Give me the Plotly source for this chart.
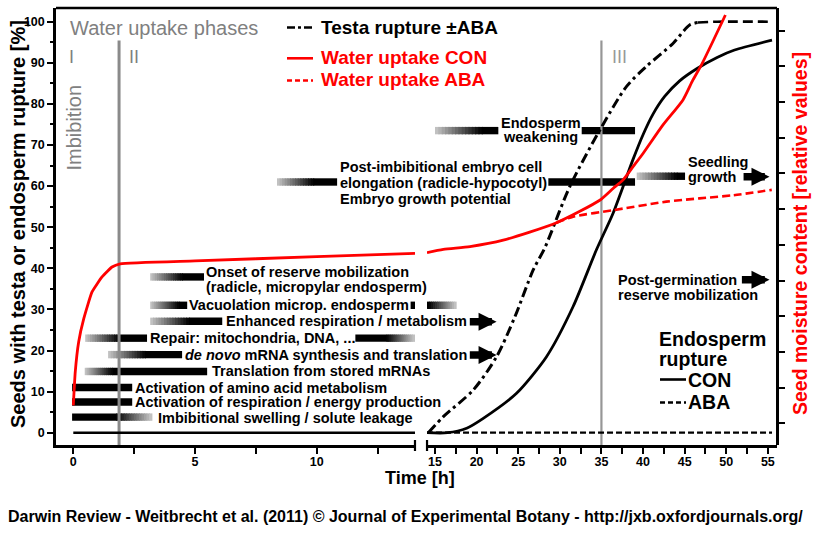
import plotly.graph_objects as go

FONT = "Liberation Sans, Arial, Helvetica, sans-serif"
W, H = 813, 533
ML, MR, MT, MB = 56, 36, 8, 88
PW, PH = W - ML - MR, H - MT - MB

# ---------------- axes (broken time axis) ----------------
X1_RANGE = [-0.711, 14.04]
X2_RANGE = [14.04, 56.1]
X1_DOMAIN = [0.0, 0.4979]
X2_DOMAIN = [0.5146, 1.0]
Y_RANGE = [-2.99, 103.33]
Y2_RANGE = [-6.08, 116.36]

Y_TICKS = [0, 10, 20, 30, 40, 50, 60, 70, 80, 90, 100]
Y2_TICKS = [0, 10, 20, 30, 40, 50, 60, 70, 80, 90, 100, 110]
X1_TICKS = [0, 5, 10]
X2_TICKS = [15, 20, 25, 30, 35, 40, 45, 50, 55]

# ---------------- data ----------------
# Endosperm rupture CON [%]
ENDO_CON_T1 = [0.0, 14.04]
ENDO_CON_V1 = [0, 0]
ENDO_CON_T2 = [14.04, 16.5, 18.8, 20.8, 24.8, 28.4, 31.6, 34.4, 36.4, 38.8, 40.0, 41.2, 42.6, 44.4, 46.5, 48.9, 51.0, 55.5]
ENDO_CON_V2 = [0, 0, 1.1, 3.5, 9.6, 18.5, 30.7, 44.5, 53.4, 66.5, 72.5, 77.5, 81.8, 85.6, 88.6, 91.3, 93.1, 95.5]
# Endosperm rupture ABA [%]
ENDO_ABA_T2 = [14.04, 55.5]
ENDO_ABA_V2 = [0, 0]
# Testa rupture +-ABA [%]
TESTA_T = [14.2, 16.0, 19.6, 22.4, 24.6, 26.8, 28.2, 31.2, 34.8, 38.0, 40.4, 43.6, 45.6, 46.6]
TESTA_V = [0, 3.9, 10.4, 18.5, 28.2, 39.6, 45.0, 59.9, 73.6, 84.2, 89.1, 94.7, 99.2, 99.8]
TESTA_TOP_T = [46.6, 48.9, 55.5]
TESTA_TOP_V = [99.8, 100, 100]
# Water uptake (seed moisture content, relative values)
WU_CON_T1 = [0.0, 0.08, 0.22, 0.43, 0.77, 1.18, 1.59, 1.93, 5.0, 10.0, 14.04]
WU_CON_V1 = [5.0, 14.4, 22.8, 29.3, 36.8, 41.0, 43.8, 44.7, 45.5, 46.7, 47.6]
WU_CON_T2 = [14.04, 16.0, 19.2, 23.2, 29.6, 34.8, 36.4, 37.6, 38.8, 40.0, 42.4, 44.8, 46.0, 47.1, 49.9]
WU_CON_V2 = [47.8, 48.7, 49.5, 51.3, 56.2, 62.5, 65.8, 68.2, 71.9, 75.6, 83.6, 90.6, 96.2, 100.8, 114.4]
WU_ABA_T2 = [29.6, 31.6, 36.4, 42.8, 50.85, 55.47]
WU_ABA_V2 = [56.2, 57.9, 59.7, 62.1, 63.9, 65.4]

# Water uptake phase boundaries (h)
PHASE_T1 = [1.88]
PHASE_T2 = [35.0]
PHASE_TOP = 95.4

# Process bars: axis, level, fade-in start, full start, full end, fade-out end (h)
BAR_AXIS = ["x", "x", "x", "x", "x", "x", "x", "x", "x", "x", "x2", "x", "x", "x2", "x2", "x2", "x2"]
BAR_Y = [3.8, 7.47, 11.0, 14.9, 19.0, 23.0, 23.0, 27.1, 31.0, 31.0, 31.0, 37.9, 61.0, 61.0, 73.5, 73.5, 62.4]
BAR_T0 = [-0.05, -0.05, -0.05, 0.47, 1.43, 0.49, 11.59, 3.16, 3.16, 13.86, 14.04, 3.16, 8.37, 28.62, 15.0, 32.63, 39.24]
BAR_T1 = [-0.05, -0.05, -0.05, 1.60, 2.95, 1.87, 11.59, 4.75, 4.34, 13.86, 14.04, 4.47, 9.86, 28.62, 20.61, 32.63, 44.05]
BAR_T2 = [1.80, 2.42, 2.42, 5.50, 4.47, 3.03, 12.90, 6.12, 4.68, 14.04, 14.40, 5.37, 10.84, 39.04, 22.61, 39.04, 45.05]
BAR_T3 = [3.25, 2.42, 2.42, 5.50, 4.47, 3.03, 14.04, 6.12, 4.68, 14.04, 17.60, 5.37, 10.84, 39.04, 22.61, 39.04, 45.05]

# Arrows (x2 axis, h): level, tail, tip
ARROW_Y = [27.0, 18.9, 62.3, 37.2]
ARROW_TAIL = [19.0, 19.0, 51.9, 51.7]
ARROW_TIP = [22.4, 22.4, 55.2, 55.2]

GRAY = "#808080"
RED = "#ff0000"


def px2x(px):
    return (px - ML) / PW


def py2y(py):
    return (H - MB - py) / PH


fig = go.Figure()

# ---------------- curves ----------------
fig.add_trace(go.Scatter(x=ENDO_CON_T1, y=ENDO_CON_V1, xaxis="x", yaxis="y", mode="lines",
                         line=dict(color="black", width=2.6)))
fig.add_trace(go.Scatter(x=ENDO_ABA_T2, y=ENDO_ABA_V2, xaxis="x2", yaxis="y", mode="lines",
                         line=dict(color="black", width=2.2, dash="6px,3px")))
fig.add_trace(go.Scatter(x=ENDO_CON_T2, y=ENDO_CON_V2, xaxis="x2", yaxis="y", mode="lines",
                         line=dict(color="black", width=2.8, shape="spline", smoothing=0.7)))
fig.add_trace(go.Scatter(x=TESTA_T, y=TESTA_V, xaxis="x2", yaxis="y", mode="lines",
                         line=dict(color="black", width=3, dash="10px,4px,3px,4px",
                                   shape="spline", smoothing=0.8)))
fig.add_trace(go.Scatter(x=TESTA_TOP_T, y=TESTA_TOP_V, xaxis="x2", yaxis="y", mode="lines",
                         line=dict(color="black", width=2.6, dash="10px,5px", shape="spline", smoothing=0.5)))
fig.add_trace(go.Scatter(x=WU_ABA_T2, y=WU_ABA_V2, xaxis="x2", yaxis="y2", mode="lines",
                         line=dict(color=RED, width=2.6, dash="8px,4px", shape="spline", smoothing=0.6)))
fig.add_trace(go.Scatter(x=WU_CON_T1, y=WU_CON_V1, xaxis="x", yaxis="y2", mode="lines",
                         line=dict(color=RED, width=2.8, shape="spline", smoothing=0.4)))
fig.add_trace(go.Scatter(x=WU_CON_T2, y=WU_CON_V2, xaxis="x2", yaxis="y2", mode="lines",
                         line=dict(color=RED, width=2.8, shape="spline", smoothing=0.6)))

# ---------------- shapes ----------------
shapes = []
LIGHT = 200
BAR_HALF = 0.9
N_RAMP = 14


def gray(v):
    v = int(round(v))
    return "rgb(%d,%d,%d)" % (v, v, v)


def rect(axis, a, b, y, color):
    shapes.append(dict(type="rect", xref=axis, yref="y", x0=a, x1=b,
                       y0=y - BAR_HALF, y1=y + BAR_HALF, fillcolor=color,
                       line=dict(width=0), layer="below"))


for ax, y, t0, t1, t2, t3 in zip(BAR_AXIS, BAR_Y, BAR_T0, BAR_T1, BAR_T2, BAR_T3):
    if t1 > t0:
        step = (t1 - t0) / N_RAMP
        for i in range(N_RAMP):
            a = t0 + i * step
            rect(ax, a, a + step * 1.35, y, gray(LIGHT * (1 - (i + 0.5) / N_RAMP)))
    if t2 > t1:
        rect(ax, t1, t2, y, "black")
    if t3 > t2:
        step = (t3 - t2) / N_RAMP
        for i in range(N_RAMP):
            a = t2 + i * step
            rect(ax, a - step * 0.35, a + step, y, gray(LIGHT * (i + 0.5) / N_RAMP))

for t in PHASE_T1:
    shapes.append(dict(type="line", xref="x", yref="y", x0=t, x1=t, y0=Y_RANGE[0], y1=PHASE_TOP,
                       line=dict(color="#8a8a8a", width=3), layer="below"))
for t in PHASE_T2:
    shapes.append(dict(type="line", xref="x2", yref="y", x0=t, x1=t, y0=Y_RANGE[0], y1=PHASE_TOP,
                       line=dict(color="#969696", width=2.2), layer="below"))

# frame top + axis break marks
shapes.append(dict(type="line", xref="paper", yref="paper", x0=0, x1=1, y0=1, y1=1,
                   line=dict(color="black", width=2.5)))
shapes.append(dict(type="line", xref="x domain", yref="paper", x0=1, x1=1,
                   y0=py2y(451), y1=py2y(440), line=dict(color="black", width=2.2)))
shapes.append(dict(type="line", xref="x2 domain", yref="paper", x0=0, x1=0,
                   y0=py2y(451), y1=py2y(440), line=dict(color="black", width=2.2)))

# legend line samples (decoration)
SAMPLES = [
    (287, 313, 27.5, "black", "8px,3px,3px,3px"),
    (287, 313, 58.3, RED, "solid"),
    (287, 313, 80.5, RED, "5px,3px"),
    (660, 686, 379.5, "black", "solid"),
    (660, 686, 402.5, "black", "5px,3px"),
]
for a, b, py, c, d in SAMPLES:
    shapes.append(dict(type="line", xref="paper", yref="paper", x0=px2x(a), x1=px2x(b),
                       y0=py2y(py), y1=py2y(py), line=dict(color=c, width=2.6, dash=d)))

# ---------------- annotations ----------------
ann = []
for y, a, b in zip(ARROW_Y, ARROW_TAIL, ARROW_TIP):
    ann.append(dict(x=b, y=y, xref="x2", yref="y", ax=a, ay=y, axref="x2", ayref="y",
                    text="", showarrow=True, arrowhead=2, arrowwidth=7.5, arrowsize=0.48,
                    arrowcolor="black", standoff=0))


def label(text, px, py, size, color="black", bold=True, xanchor="left", angle=0):
    t = "<b>%s</b>" % text if bold else text
    ann.append(dict(text=t, x=px2x(px), y=py2y(py), xref="paper", yref="paper",
                    xanchor=xanchor, yanchor="middle", showarrow=False, borderpad=0,
                    textangle=angle, font=dict(family=FONT, size=size, color=color)))


# gray phase texts
label("Water uptake phases", 69, 27.5, 20, GRAY, bold=False)
label("I", 71, 56.5, 18, GRAY, bold=False, xanchor="center")
label("II", 134, 56.5, 18, GRAY, bold=False, xanchor="center")
label("III", 619, 57, 18, "#999999", bold=False, xanchor="center")
label("Imbibition", 74, 127.5, 20, GRAY, bold=False, xanchor="center", angle=-90)

# legend texts
label("Testa rupture ±ABA", 320, 27.5, 19)
label("Water uptake CON", 320, 57.8, 19, RED)
label("Water uptake ABA", 320, 79.2, 19, RED)
label("Endosperm", 658, 339, 19.5)
label("rupture", 658, 359, 19.5)
label("CON", 687, 380, 19.5)
label("ABA", 687, 401.7, 19.5)

# process texts
PROC = [
    ("Imbibitional swelling / solute leakage", 157, 417.5),
    ("Activation of respiration / energy production", 133.5, 402),
    ("Activation of amino acid metabolism", 133.5, 387.5),
    ("Translation from stored mRNAs", 210.5, 370.5),
    ("<i>de novo</i> mRNA synthesis and translation", 183.7, 355),
    ("Repair: mitochondria, DNA, ...", 148.7, 338),
    ("Enhanced respiration / metabolism", 225.3, 321.3),
    ("Vacuolation microp. endosperm", 188, 305),
    ("Onset of reserve mobilization", 205.3, 272),
    ("(radicle, micropylar endosperm)", 205.3, 287),
    ("Post-imbibitional embryo cell", 339.3, 166.7),
    ("elongation (radicle-hypocotyl)", 339.3, 183),
    ("Embryo growth potential", 339.3, 199),
    ("Endosperm", 500, 123.5),
    ("weakening", 501.7, 137),
    ("Seedling", 686.7, 161.7),
    ("growth", 687.3, 176.7),
    ("Post-germination", 616.7, 280),
    ("reserve mobilization", 616.7, 295),
]
for t, px, py in PROC:
    label(t, px, py, 14.5)

# axis titles and caption
label("Seeds with testa or endosperm rupture [%]", 18, 224, 20, xanchor="center", angle=-90)
label("Seed moisture content [relative values]", 800, 234, 19.5, RED, xanchor="center", angle=-90)
label("Time [h]", 420, 478, 18, xanchor="center")
label("Darwin Review - Weitbrecht et al. (2011) © Journal of Experimental Botany - http://jxb.oxfordjournals.org/",
      405.5, 516, 16, xanchor="center")

# ---------------- layout ----------------
TICKFONT = dict(family=FONT, size=12.5, color="black", weight="bold")
common_x = dict(anchor="y", ticks="outside", ticklen=6, tickwidth=2, tickcolor="black",
                showline=True, linewidth=2.5, linecolor="black", showgrid=False, zeroline=False,
                tickfont=TICKFONT, fixedrange=True, ticklabelstandoff=-3)

fig.update_layout(
    width=W, height=H,
    margin=dict(l=ML, r=MR, t=MT, b=MB, pad=0),
    paper_bgcolor="white", plot_bgcolor="white",
    showlegend=False,
    font=dict(family=FONT, color="black"),
    xaxis=dict(domain=X1_DOMAIN, range=X1_RANGE, tickmode="array", tickvals=X1_TICKS,
               minor=dict(tickmode="linear", tick0=0, dtick=2.5, ticks="outside", ticklen=6,
                          tickwidth=2, tickcolor="black"), **common_x),
    xaxis2=dict(domain=X2_DOMAIN, range=X2_RANGE, tickmode="array", tickvals=X2_TICKS,
                minor=dict(tickmode="linear", tick0=0, dtick=2.5, ticks="outside", ticklen=6,
                           tickwidth=2, tickcolor="black"), **common_x),
    yaxis=dict(domain=[0, 1], range=Y_RANGE, anchor="x", tickmode="array", tickvals=Y_TICKS,
               ticks="outside", ticklen=6, tickwidth=2, tickcolor="black",
               minor=dict(tickmode="linear", tick0=0, dtick=5, ticks="outside", ticklen=3,
                          tickwidth=2, tickcolor="black"),
               showline=True, linewidth=2.5, linecolor="black", showgrid=False, zeroline=False,
               tickfont=TICKFONT, fixedrange=True),
    yaxis2=dict(overlaying="y", side="right", anchor="free", position=1, range=Y2_RANGE,
                tickmode="array", tickvals=Y2_TICKS, showticklabels=False,
                ticks="outside", ticklen=6, tickwidth=2, tickcolor="black",
                showline=True, linewidth=2.5, linecolor="black", showgrid=False, zeroline=False,
                fixedrange=True),
    shapes=shapes,
    annotations=ann,
)

fig.write_html("out.html", config={"displayModeBar": False},
               post_script="document.body.style.margin='0';")
